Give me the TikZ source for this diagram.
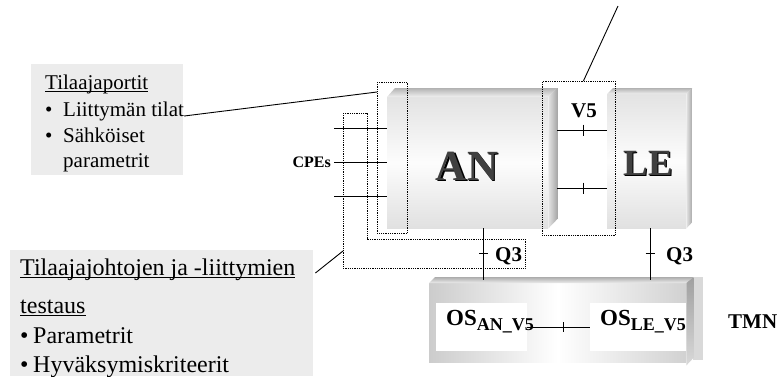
\documentclass[tikz,border=0pt]{standalone}
\usepackage{fontspec}
\setmainfont{Liberation Serif}
\usetikzlibrary{calc}
\definecolor{boxgrey}{HTML}{ECECEC}
\newcommand\myul[2][2.8pt]{\setbox0\hbox{#2}\rlap{\rule[-#1]{\wd0}{1.1pt}}\box0}
\begin{document}
\begin{tikzpicture}[x=1pt,y=-1pt,
  lbl/.style={font=\fontsize{21}{21}\selectfont\bfseries, inner sep=0, anchor=base west},
  txt/.style={font=\fontsize{21}{25}\selectfont, inner sep=0, anchor=base west},
  txtb/.style={font=\fontsize{24}{28}\selectfont, inner sep=0, anchor=base west},
  greybox/.style={fill=boxgrey, draw=none, inner sep=0, anchor=north west},
  front/.style={inner sep=0, anchor=north west, top color=gray!22, bottom color=gray!24, middle color=gray!2},
  whitebox/.style={fill=white, inner sep=0, anchor=north west},
  dotbox/.style={draw, densely dotted, line width=0.8pt, inner sep=0, anchor=north west},
  conn/.style={line width=0.9pt},
  big/.style={font=\fontsize{#1}{#1}\selectfont\bfseries, inner sep=0, anchor=base}]
\useasboundingbox (0,0) rectangle (781,376);

% left text boxes
\node[greybox, minimum width=152, minimum height=111] (pbox) at (31,64) {};
\node[txt] (p1) at (45,89) {\myul{Tilaajaportit}};
\node[txt] (p2) at (45,116) {\makebox[18pt][l]{•}Liittymän tilat};
\node[txt] (p3) at (45,142) {\makebox[18pt][l]{•}Sähköiset};
\node[txt] (p4) at (63,167) {parametrit};

\node[greybox, minimum width=303, minimum height=126] (tbox) at (10,250) {};
\node[txtb] (t1) at (20,275) {\myul{Tilaajajohtojen ja -liittymien}};
\node[txtb] (t2) at (20,313) {\myul{testaus}};
\node[txtb] (t3) at (20,343) {\makebox[13pt][l]{•}Parametrit};
\node[txtb] (t4) at (20,372) {\makebox[13pt][l]{•}Hyväksymiskriteerit};

% AN box
\node[front, minimum width=161, minimum height=131] (AN) at (387,97) {};
\shade[top color=gray!60, bottom color=gray!12] (AN.north west) -- ++(8,-9) -- ($(AN.north east)+(9,-9)$) -- (AN.north east) -- cycle;
\shade[left color=gray!22, right color=gray!70] (AN.north east) -- ++(9,-9) -- ++(0,131) -- (AN.south east) -- cycle;

% LE box
\node[front, minimum width=79, minimum height=134] (LE) at (607,94) {};
\shade[top color=gray!60, bottom color=gray!12] (LE.north west) -- ++(6,-6) -- ($(LE.north east)+(6,-6)$) -- (LE.north east) -- cycle;
\shade[left color=gray!22, right color=gray!70] (LE.north east) -- ++(6,-6) -- ++(0,134) -- (LE.south east) -- cycle;

% TMN box
\fill[gray!30] (693,277) rectangle (703,360);
\node[inner sep=0, anchor=north west, left color=gray!40, right color=gray!36, middle color=white, minimum width=257, minimum height=79] (TMN) at (429,283) {};
\shade[top color=gray!65, bottom color=gray!15] (TMN.north west) -- ++(6,-6) -- ($(TMN.north east)+(7,-6)$) -- (TMN.north east) -- cycle;
\node[whitebox, minimum width=91, minimum height=48] (osan) at (436,303) {};
\node[whitebox, minimum width=96, minimum height=48] (osle) at (590,303) {};
\node[big=23, anchor=base west] (osant) at (446,325) {OS\raisebox{-5pt}{\fontsize{18}{18}\selectfont AN\_V5}};
\node[big=23, anchor=base west] (oslet) at (600,325) {OS\raisebox{-5pt}{\fontsize{18}{18}\selectfont LE\_V5}};
\draw[conn] (osan.east) -- (osle.west);
\draw[conn] ($(osan.east)!0.57!(osle.west)$) +(0,-5) -- +(0,5);
\shade[top color=gray!75, bottom color=gray!30] (TMN.north east) -- ++(7,-6) -- ++(0,81) -- ($(TMN.south east)+(0,3)$) -- cycle;

% CPE lines
\foreach \y [count=\i] in {128,162,196} {
  \coordinate (c\i) at (334,\y);
  \draw[conn] (c\i) -- (c\i -| AN.west);
}
% V5 lines
\foreach \y [count=\i] in {130,188} {
  \coordinate (v\i) at (557,\y);
  \draw[conn] (v\i) -- (v\i -| LE.west);
  \draw[conn] (583,\y-5.5) -- (583,\y+5.5);
}
% Q3 lines
\coordinate (qa) at ($(AN.south west)!0.6!(AN.south east)$);
\coordinate (qb) at ($(LE.south west)!0.544!(LE.south east)$);
\foreach \q in {qa,qb} {
  \draw[conn] (\q) -- ($(\q |- TMN.north)+(0,-3)$);
  \draw[conn] ($(\q)+(-4.5,25)$) -- ++(9,0);
}

% dotted boxes
\node[dotbox, minimum width=30, minimum height=151] (pdot) at (377,82) {};
\node[dotbox, minimum width=73, minimum height=154] (vdot) at (542,81) {};
\draw[densely dotted, line width=0.8pt] (343,113) -- (367,113) -- (367,239) -- (525,239) -- (525,268) -- (343,268) -- cycle;

% labels
\node[big=43, text=black] (ANsh) at (468.5,181.5) {AN};
\node[big=43, text=black!75] (ANl) at (467,180) {AN};
\node[big=37, text=black] (LEsh) at (649.5,176.5) {LE};
\node[big=37, text=black!75] (LEl) at (648,175) {LE};
\node[lbl] (V5) at (571,117) {V5};
\node[lbl] (Q3a) at (495,261) {Q3};
\node[lbl] (Q3b) at (666,261) {Q3};
\node[lbl] (TMNl) at (728,328) {TMN};
\node[lbl, font=\fontsize{16}{16}\selectfont\bfseries, anchor=base east] (CPEs) at (331,167) {CPEs};

% callout connectors
\coordinate (v5end) at (618,6);
\draw[conn] (p2.base east) -- ($(pdot.north west)+(0,10)$);
\draw[conn] ($(vdot.north)+(4.5,0)$) -- (v5end);
\draw[conn] ($(tbox.north east)+(2,23)$) -- (343,251);
\end{tikzpicture}
\end{document}
